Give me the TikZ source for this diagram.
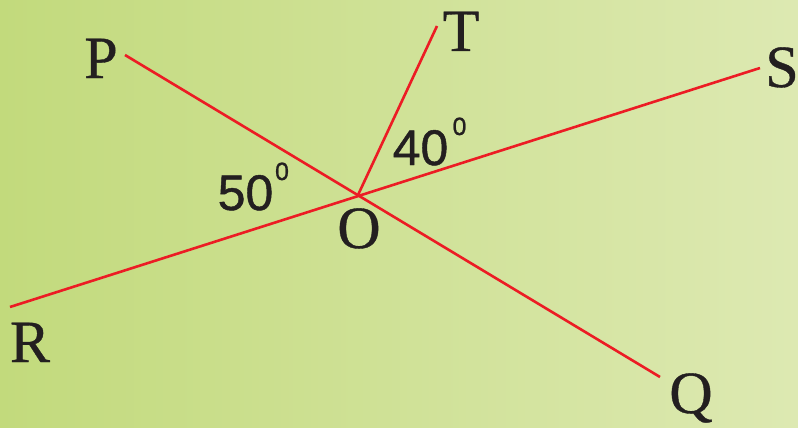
\documentclass[tikz,border=0pt]{standalone}
\usepackage{fontspec}
\setmainfont{Liberation Serif}[FakeBold=0.6]
\newfontfamily\digitfont{Liberation Sans}[FakeBold=0.9]
\definecolor{bgleft}{RGB}{194,218,124}
\definecolor{bgright}{RGB}{221,233,178}
\definecolor{linered}{RGB}{236,28,36}
\definecolor{ink}{RGB}{35,31,32}
\tikzset{
  ray/.style={draw=linered, line width=2.6pt},
  letter/.style={anchor=base, inner sep=0pt, text=ink, font=\fontsize{60}{60}\selectfont},
  angnum/.style={anchor=base, inner sep=0pt, text=ink, font=\digitfont\fontsize{50}{50}\selectfont},
  angsup/.style={anchor=base, inner sep=0pt, text=ink, font=\digitfont\fontsize{25}{25}\selectfont}
}
\begin{document}
\begin{tikzpicture}[x=1pt,y=-1pt]
  \shade[left color=bgleft, right color=bgright] (0,0) rectangle (798,428);
  \useasboundingbox (0,0) rectangle (798,428);
  \coordinate (O) at (358,195);
  \coordinate (Pend) at (125,55);
  \coordinate (Qend) at (660,377);
  \coordinate (Rend) at (10,307);
  \coordinate (Send) at (760,68);
  \coordinate (Tend) at (437,26);
  \draw[ray] (Pend) -- (Qend);
  \draw[ray] (Rend) -- (Send);
  \draw[ray] (O) -- (Tend);
  \node[letter] (P) at (101,78) {P};
  \node[letter] (Q) at (691,413) {Q};
  \node[letter] (R) at (30,362) {R};
  \node[letter] (S) at (782,87) {S};
  \node[letter] (T) at (461,51) {T};
  \node[letter] (Olab) at (359,248) {O};
  \node[angnum] (a50) at (245.5,210) {50};
  \node[angsup] (a50s) at (282,180) {0};
  \node[angnum] (a40) at (420.5,165) {40};
  \node[angsup] (a40s) at (459.5,135) {0};
\end{tikzpicture}
\end{document}
